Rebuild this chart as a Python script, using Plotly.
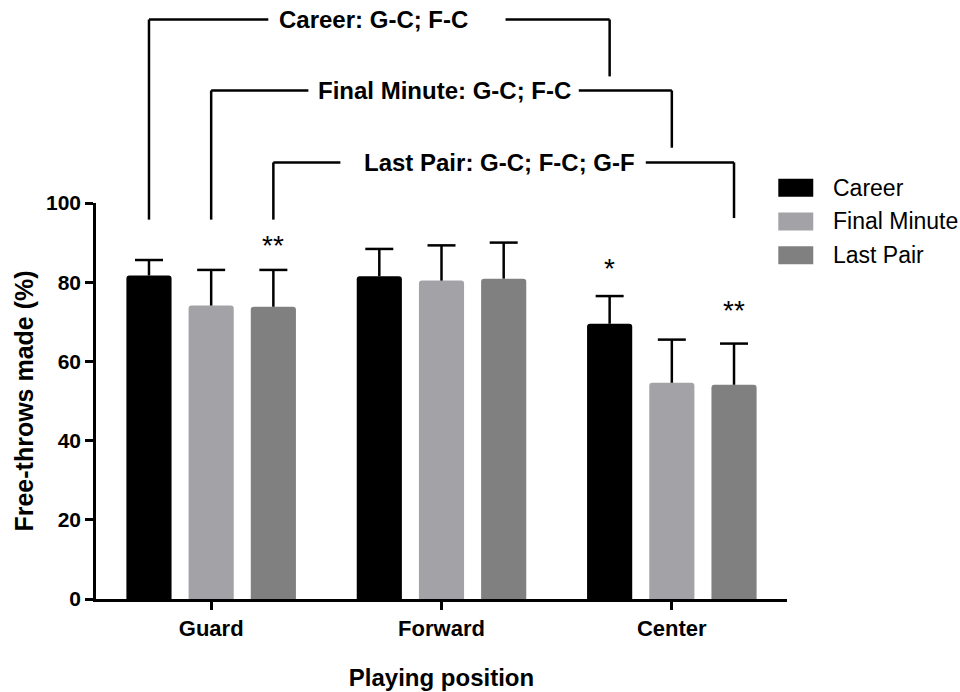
import plotly.graph_objects as go

positions = ["Guard", "Forward", "Center"]
series_names = ["Career", "Final Minute", "Last Pair"]
career = [81.7, 81.5, 69.5]
final_minute = [74.1, 80.4, 54.6]
last_pair = [73.8, 80.9, 54.1]
career_sd = [3.9, 6.9, 7.0]
final_minute_sd = [9.0, 8.9, 10.9]
last_pair_sd = [9.3, 9.1, 10.4]
colors = ["#000000", "#A3A3A7", "#808080"]
y_ticks = [0, 20, 40, 60, 80, 100]

# significance stars: (category index, series index, text, y value)
stars = [(0, 2, "**", 90.3), (2, 0, "*", 84.4), (2, 2, "**", 73.9)]

# bracket definitions: label, series index, y (paper) of horizontal, right-leg bottom (paper),
# left gap end, right gap start (data x), label center (data x)
brackets = [
    ("Career: G-C; F-C", 0, 1.4634, 1.3197, 0.248, 1.278, 0.7065),
    ("Final Minute: G-C; F-C", 1, 1.2841, 1.1396, 0.422, 1.596, 1.011),
    ("Last Pair: G-C; F-C; G-F", 2, 1.1025, 0.962, 0.561, 1.887, 1.25),
]
left_leg_bottom = 0.958

bargap = 0.19
slot = (1 - bargap) / 3
xs = list(range(len(positions)))

def bar_x(c, k):
    return c + (k - 1) * slot

fig = go.Figure()
all_vals = [career, final_minute, last_pair]
all_sd = [career_sd, final_minute_sd, last_pair_sd]
for k, name in enumerate(series_names):
    fig.add_trace(go.Bar(
        x=xs, y=all_vals[k], name=name, showlegend=False,
        marker=dict(color=colors[k], line=dict(width=0)),
        error_y=dict(type="data", symmetric=False, array=all_sd[k],
                     arrayminus=[0] * len(xs), color="black", thickness=2.5, width=0),
    ))
# error-bar caps (top only)
for k, name in enumerate(series_names):
    fig.add_trace(go.Scatter(
        x=[bar_x(c, k) for c in xs],
        y=[v + s for v, s in zip(all_vals[k], all_sd[k])],
        mode="markers", showlegend=False, hoverinfo="skip",
        marker=dict(symbol="line-ew", size=20, color="black",
                    line=dict(color="black", width=2.5)),
    ))

shapes = []
annotations = []
line_style = dict(color="black", width=2.5)
for label, k, yh, yr, gap_l, gap_r, xc in brackets:
    xl = bar_x(0, k)
    xr = bar_x(2, k)
    shapes.append(dict(type="line", xref="x", yref="paper", x0=xl, x1=xl, y0=left_leg_bottom, y1=yh, line=line_style))
    shapes.append(dict(type="line", xref="x", yref="paper", x0=xl, x1=gap_l, y0=yh, y1=yh, line=line_style))
    shapes.append(dict(type="line", xref="x", yref="paper", x0=gap_r, x1=xr, y0=yh, y1=yh, line=line_style))
    shapes.append(dict(type="line", xref="x", yref="paper", x0=xr, x1=xr, y0=yr, y1=yh, line=line_style))
    annotations.append(dict(text="<b>%s</b>" % label, xref="x", yref="paper", x=xc, y=yh,
                            showarrow=False, xanchor="center", yanchor="middle",
                            font=dict(size=24, color="black")))

for c, k, txt, yv in stars:
    annotations.append(dict(text=txt, xref="x", yref="y", x=bar_x(c, k), y=yv,
                            showarrow=False, xanchor="center", yanchor="middle",
                            yshift=-4, font=dict(size=28, color="black")))

# manual legend
legend_rows = [1.0386, 0.9535, 0.868]
for k, name in enumerate(series_names):
    yc = legend_rows[k]
    shapes.append(dict(type="rect", xref="paper", yref="paper", x0=0.9874, x1=1.038,
                       y0=yc - 0.0228, y1=yc + 0.0228, fillcolor=colors[k], line=dict(width=0)))
    annotations.append(dict(text=name, xref="paper", yref="paper", x=1.0637, y=yc,
                            showarrow=False, xanchor="left", yanchor="middle",
                            font=dict(size=23, color="black")))

fig.update_layout(
    width=960, height=692,
    margin=dict(l=96, r=173, t=203.3, b=92.7, autoexpand=False),
    plot_bgcolor="white", paper_bgcolor="white",
    font=dict(family="Liberation Sans, Arial, sans-serif", color="black"),
    barmode="group", bargap=bargap, bargroupgap=0.274, barcornerradius=3,
    shapes=shapes, annotations=annotations,
    xaxis=dict(range=[-0.5, 2.5], tickvals=xs, ticktext=["<b>%s</b>" % p for p in positions],
               showline=True, linecolor="black", linewidth=2.5, ticks="outside",
               ticklen=8, tickwidth=2.5, tickcolor="black", showgrid=False, zeroline=False,
               tickfont=dict(size=22),
               title=dict(text="<b>Playing position</b>", font=dict(size=24), standoff=30)),
    yaxis=dict(range=[0, 100], tickvals=y_ticks, ticktext=["<b>%d</b>" % v for v in y_ticks],
               showline=True, linecolor="black", linewidth=2.5, ticks="outside",
               ticklen=8, tickwidth=2.5, tickcolor="black", showgrid=False, zeroline=False,
               tickfont=dict(size=21),
               title=dict(text="<b>Free-throws made (%)</b>", font=dict(size=25), standoff=6)),
)

fig.write_html("out.html", config={"displayModeBar": False},
               post_script="document.body.style.margin='0';document.body.style.overflow='hidden';")
